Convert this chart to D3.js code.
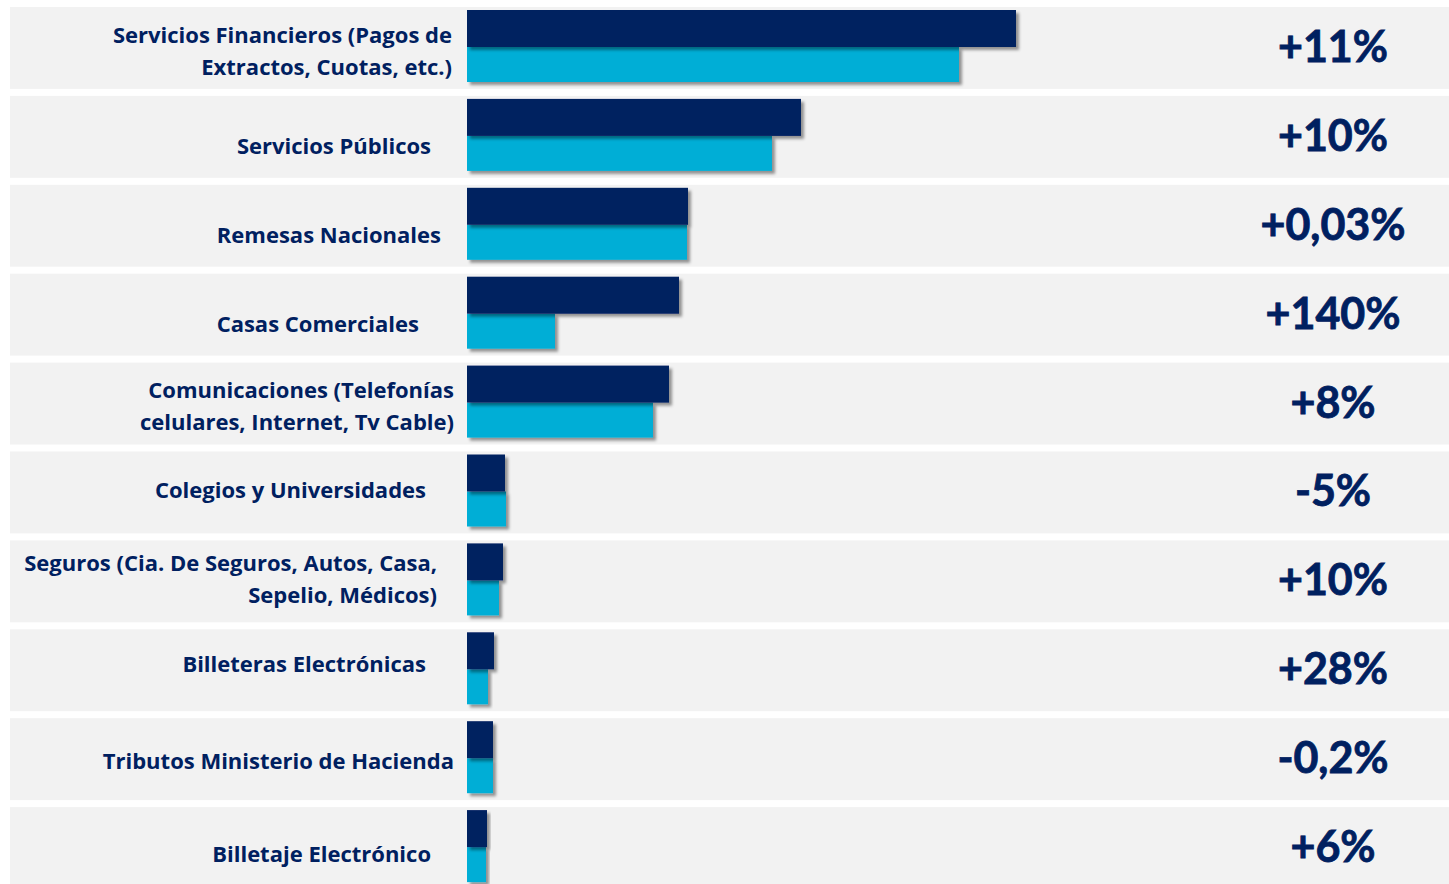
<!DOCTYPE html>
<html>
<head>
<meta charset="utf-8">
<script src="https://cdn.jsdelivr.net/npm/d3@7/dist/d3.min.js"></script>
<style>
  html, body { margin: 0; padding: 0; background: #ffffff; }
  svg { display: block; }
</style>
</head>
<body>
<script>

// categorias (etiquetas en una o dos lineas)
const categorias = [
    ["Servicios Financieros (Pagos de", "Extractos, Cuotas, etc.)"],
    ["Servicios Públicos"],
    ["Remesas Nacionales"],
    ["Casas Comerciales"],
    ["Comunicaciones (Telefonías", "celulares, Internet, Tv Cable)"],
    ["Colegios y Universidades"],
    ["Seguros (Cia. De Seguros, Autos, Casa,", "Sepelio, Médicos)"],
    ["Billeteras Electrónicas"],
    ["Tributos Ministerio de Hacienda"],
    ["Billetaje Electrónico"]
];

// valores (unidades relativas)
const serieActual   = [549, 334, 221, 212, 202, 38, 36, 27, 26, 20];
const serieAnterior = [492, 305, 220, 88, 186, 39, 32, 21, 26, 19];

const variacion = ["+11%", "+10%", "+0,03%", "+140%", "+8%", "-5%", "+10%", "+28%", "-0,2%", "+6%"];

// ajuste de las etiquetas de texto: [borde derecho, desplazamiento vertical]
const labelLayout = [[452, 5], [431, 11], [441, 11], [419, 12], [454, 5],
                     [426, 0], [437, 0], [426, -4], [454, 4], [431, 8]];

const width = 1449, height = 884;
const navy = "#002060", cyan = "#00aed6";

const svg = d3.select("body").append("svg")
    .attr("width", width)
    .attr("height", height);

let defs = svg.append("defs");
defs.append("filter")
    .attr("id", "sombra")
    .attr("x", "-10%").attr("y", "-20%")
    .attr("width", "130%").attr("height", "150%")
    .append("feDropShadow")
    .attr("dx", 3).attr("dy", 3)
    .attr("stdDeviation", 1.6)
    .attr("flood-color", "#000")
    .attr("flood-opacity", 0.4);

defs.append("filter")
    .attr("id", "sombraLinea")
    .append("feDropShadow")
    .attr("dx", 0).attr("dy", 1)
    .attr("stdDeviation", 0.8)
    .attr("flood-color", "#000")
    .attr("flood-opacity", 0.3);

let idx = d3.range(categorias.length);

let y = d3.scaleBand()
    .domain(idx)
    .range([7, 7 + 88.9 * categorias.length])
    .paddingInner(0);

let x = d3.scaleLinear()
    .domain([0, d3.max(serieActual)])
    .range([467, 1016]);

const rowH = y.bandwidth();

// fondos de las filas
let filas = svg.append("g").attr("class", "filas");
filas.selectAll("rect")
    .data(idx)
    .enter()
    .append("rect")
    .attr("x", 10)
    .attr("y", d => y(d))
    .attr("width", width - 10)
    .attr("height", rowH - 7)
    .attr("fill", "#f2f2f2");

// lineas separadoras
filas.selectAll("line")
    .data(idx.slice(0, -1))
    .enter()
    .append("line")
    .attr("x1", 10)
    .attr("x2", width)
    .attr("y1", d => y(d) + rowH - 4.5)
    .attr("y2", d => y(d) + rowH - 4.5)
    .attr("stroke", "#9f9f9f")
    .attr("stroke-width", 2)
    .attr("filter", "url(#sombraLinea)");

// barras
let barras = svg.append("g").attr("class", "barras");

barras.selectAll("rect.anterior")
    .data(serieAnterior)
    .enter()
    .append("rect")
    .attr("class", "anterior")
    .attr("x", x(0))
    .attr("y", (d, i) => y(i) + 40)
    .attr("width", d => x(d) - x(0))
    .attr("height", 35)
    .attr("fill", cyan)
    .attr("filter", "url(#sombra)");

barras.selectAll("rect.actual")
    .data(serieActual)
    .enter()
    .append("rect")
    .attr("class", "actual")
    .attr("x", x(0))
    .attr("y", (d, i) => y(i) + 3)
    .attr("width", d => x(d) - x(0))
    .attr("height", 37)
    .attr("fill", navy)
    .attr("filter", "url(#sombra)");

// etiquetas de categorias
let etiquetas = svg.append("g").attr("class", "etiquetas");
etiquetas.selectAll("text")
    .data(categorias)
    .enter()
    .append("text")
    .attr("text-anchor", "end")
    .attr("font-family", "'Open Sans', sans-serif")
    .attr("font-weight", "bold")
    .attr("font-size", 22)
    .attr("fill", navy)
    .each(function(d, i) {
        let t = d3.select(this);
        let cy = y(i) + 39 + labelLayout[i][1];
        let lh = 32;
        let y0 = cy - (d.length - 1) * lh / 2;
        d.forEach((linea, j) => {
            t.append("tspan")
                .attr("x", labelLayout[i][0])
                .attr("y", y0 + j * lh)
                .attr("dy", "0.35em")
                .text(linea);
        });
    });

// variacion porcentual
let porcentajes = svg.append("g").attr("class", "porcentajes");
porcentajes.selectAll("text")
    .data(variacion)
    .enter()
    .append("text")
    .attr("x", 1333)
    .attr("y", (d, i) => y(i) + 39.5)
    .attr("dy", "0.36em")
    .attr("text-anchor", "middle")
    .attr("font-family", "Lato, 'Open Sans', sans-serif")
    .attr("font-weight", "bold")
    .attr("font-size", 43)
    .attr("fill", navy)
    .attr("stroke", navy)
    .attr("stroke-width", 0.8)
    .text(d => d);

</script>
</body>
</html>
